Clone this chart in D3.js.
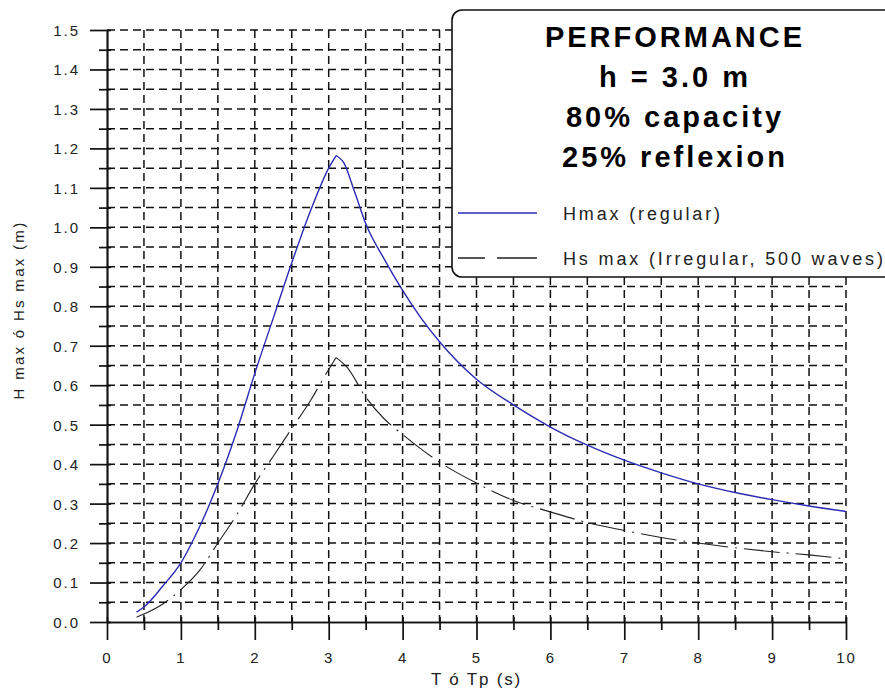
<!DOCTYPE html>
<html>
<head>
<meta charset="utf-8">
<script src="https://cdn.jsdelivr.net/npm/d3@7"></script>
<style>
  body { margin: 0; background: #fff; }
  svg { display: block; font-family: "Liberation Sans", Arial, sans-serif; }
</style>
</head>
<body>
<div id="chart"></div>
<script>

// ---------- data ----------
// Hmax (regular waves), T (s) -> H (m)
var regT = [0.4, 0.5, 0.75, 1, 1.25, 1.5, 1.75, 2, 2.25, 2.5, 2.75, 3, 3.1, 3.2, 3.35, 3.5, 3.75, 4, 4.25, 4.5, 5, 5.5, 6, 6.5, 7, 7.5, 8, 8.5, 9, 9.5, 10];
var regH = [0.025, 0.038, 0.09, 0.15, 0.24, 0.35, 0.48, 0.63, 0.77, 0.91, 1.04, 1.15, 1.182, 1.165, 1.09, 1.01, 0.92, 0.84, 0.77, 0.71, 0.615, 0.55, 0.494, 0.448, 0.41, 0.378, 0.35, 0.328, 0.31, 0.294, 0.28];

// Hs max (irregular, 500 waves), Tp (s) -> Hs (m)
var irrT = [0.4, 0.5, 0.75, 1, 1.25, 1.5, 1.75, 2, 2.25, 2.5, 2.75, 3, 3.1, 3.25, 3.5, 3.75, 4, 4.5, 5, 5.5, 6, 6.5, 7, 7.5, 8, 8.5, 9, 9.5, 10];
var irrH = [0.012, 0.02, 0.045, 0.082, 0.13, 0.2, 0.27, 0.35, 0.42, 0.49, 0.56, 0.64, 0.67, 0.645, 0.57, 0.515, 0.475, 0.405, 0.352, 0.308, 0.279, 0.252, 0.232, 0.214, 0.2, 0.188, 0.178, 0.17, 0.16];

var xMajor = [0, 1, 2, 3, 4, 5, 6, 7, 8, 9, 10];
var yMajor = [0, 0.1, 0.2, 0.3, 0.4, 0.5, 0.6, 0.7, 0.8, 0.9, 1.0, 1.1, 1.2, 1.3, 1.4, 1.5];

var titleLines = ["PERFORMANCE", "h = 3.0 m", "80% capacity", "25% reflexion"];
var legendNames = ["Hmax (regular)", "Hs max (Irregular, 500 waves)"];


// ---------- layout ----------
var W = 885, H = 691;
var plot = { left: 107, right: 846, top: 30, bottom: 622 };

var svg = d3.select('#chart').append('svg')
	.attr('width', W).attr('height', H);

var x = d3.scaleLinear().domain([0, 10]).range([plot.left, plot.right]);
var y = d3.scaleLinear().domain([0, 1.5]).range([plot.bottom, plot.top]);

// grid step lists (0.5 in x, 0.05 in y)
var xGrid = d3.range(1, 21).map(function (i) { return i * 0.5; });
var yGrid = d3.range(1, 31).map(function (i) { return +(i * 0.05).toFixed(2); });
var xMinor = d3.range(0, 10).map(function (i) { return i + 0.5; });
var yMinor = d3.range(0, 15).map(function (i) { return +(i * 0.1 + 0.05).toFixed(2); });


// ---------- grid ----------
var grid = svg.append('g').attr('class', 'grid')
	.attr('stroke', '#111').attr('stroke-width', 1.5)
	.attr('stroke-dasharray', '8,5');

grid.selectAll('.gx').data(xGrid).enter().append('line')
	.attr('x1', function (d) { return x(d); }).attr('x2', function (d) { return x(d); })
	.attr('y1', y(1.5)).attr('y2', y(0));

grid.selectAll('.gy').data(yGrid).enter().append('line')
	.attr('x1', x(0)).attr('x2', x(10))
	.attr('y1', function (d) { return y(d); }).attr('y2', function (d) { return y(d); });


// ---------- axes ----------
var tickFont = function (sel) {
	sel.attr('font-size', 15).attr('fill', '#222').attr('letter-spacing', 2)
		.attr('font-family', '"Liberation Sans", Arial, sans-serif');
};

var xAxis = svg.append('g').attr('transform', 'translate(0,' + plot.bottom + ')')
	.call(d3.axisBottom(x).tickValues(xMajor).tickSize(18).tickSizeOuter(0).tickFormat(d3.format('d')));
xAxis.selectAll('text').attr('y', 41).attr('dy', 0).call(tickFont);

var xAxisMinor = svg.append('g').attr('transform', 'translate(0,' + plot.bottom + ')')
	.call(d3.axisBottom(x).tickValues(xMinor).tickSize(8).tickSizeOuter(0).tickFormat(''));

var yAxis = svg.append('g').attr('transform', 'translate(' + plot.left + ',0)')
	.call(d3.axisLeft(y).tickValues(yMajor).tickSize(17).tickSizeOuter(0).tickFormat(d3.format('.1f')));
yAxis.selectAll('text').attr('x', -27).attr('dy', '0.36em').call(tickFont);

var yAxisMinor = svg.append('g').attr('transform', 'translate(' + plot.left + ',0)')
	.call(d3.axisLeft(y).tickValues(yMinor).tickSize(8).tickSizeOuter(0).tickFormat(''));

// ticks poke a little into the plot
xAxis.selectAll('line').attr('y1', -5);
xAxisMinor.selectAll('line').attr('y1', -5);
yAxis.selectAll('line').attr('x1', 4);
yAxisMinor.selectAll('line').attr('x1', 4);

svg.selectAll('.domain').attr('stroke', '#111').attr('stroke-width', 1.7);
svg.selectAll('.tick line').attr('stroke', '#111').attr('stroke-width', 1.7);

// axis titles
svg.append('text')
	.attr('x', (plot.left + plot.right) / 2).attr('y', 685)
	.attr('text-anchor', 'middle').attr('font-size', 17).attr('letter-spacing', 1.8)
	.attr('fill', '#222')
	.text('T ó Tp (s)');

svg.append('text')
	.attr('transform', 'translate(24,310) rotate(-90)')
	.attr('text-anchor', 'middle').attr('font-size', 15).attr('letter-spacing', 2.3)
	.attr('fill', '#222')
	.text('H max ó Hs max (m)');


// ---------- curves ----------
var line = d3.line()
	.x(function (d) { return x(d[0]); })
	.y(function (d) { return y(d[1]); })
	.curve(d3.curveMonotoneX);

// split each series at its peak so the top stays a sharp point
function peakPath(ts, hs) {
	var pts = d3.zip(ts, hs);
	var k = d3.maxIndex(hs);
	return line(pts.slice(0, k + 1)) + line(pts.slice(k));
}

svg.append('path')
	.attr('d', peakPath(irrT, irrH))
	.attr('fill', 'none').attr('stroke', '#222').attr('stroke-width', 1.1)
	.attr('stroke-dasharray', '36,7,2,7');

svg.append('path')
	.attr('d', peakPath(regT, regH))
	.attr('fill', 'none').attr('stroke', '#2b2bb5').attr('stroke-width', 1.4);


// ---------- legend box ----------
var lg = svg.append('g').attr('class', 'legend');

lg.append('rect')
	.attr('x', 452).attr('y', 10).attr('width', 470).attr('height', 267)
	.attr('rx', 10).attr('ry', 10)
	.attr('fill', '#fff').attr('stroke', '#111').attr('stroke-width', 1.6);

lg.selectAll('.title').data(titleLines).enter().append('text')
	.attr('x', 675).attr('y', function (d, i) { return 47 + i * 40; })
	.attr('text-anchor', 'middle')
	.attr('font-size', 29).attr('font-weight', 'bold').attr('letter-spacing', 3)
	.attr('fill', '#000')
	.text(function (d) { return d; });

var legendY = [213, 258];

lg.append('line')
	.attr('x1', 458).attr('x2', 537).attr('y1', legendY[0]).attr('y2', legendY[0])
	.attr('stroke', '#2b2bb5').attr('stroke-width', 1.6);

lg.append('line')
	.attr('x1', 458).attr('x2', 537).attr('y1', legendY[1]).attr('y2', legendY[1])
	.attr('stroke', '#222').attr('stroke-width', 1.6)
	.attr('stroke-dasharray', '27,12,40');

lg.selectAll('.lbl').data(legendNames).enter().append('text')
	.attr('x', 563).attr('y', function (d, i) { return legendY[i] + 7; })
	.attr('font-size', 18).attr('letter-spacing', 2.85)
	.attr('fill', '#222')
	.text(function (d) { return d; });

</script>
</body>
</html>
